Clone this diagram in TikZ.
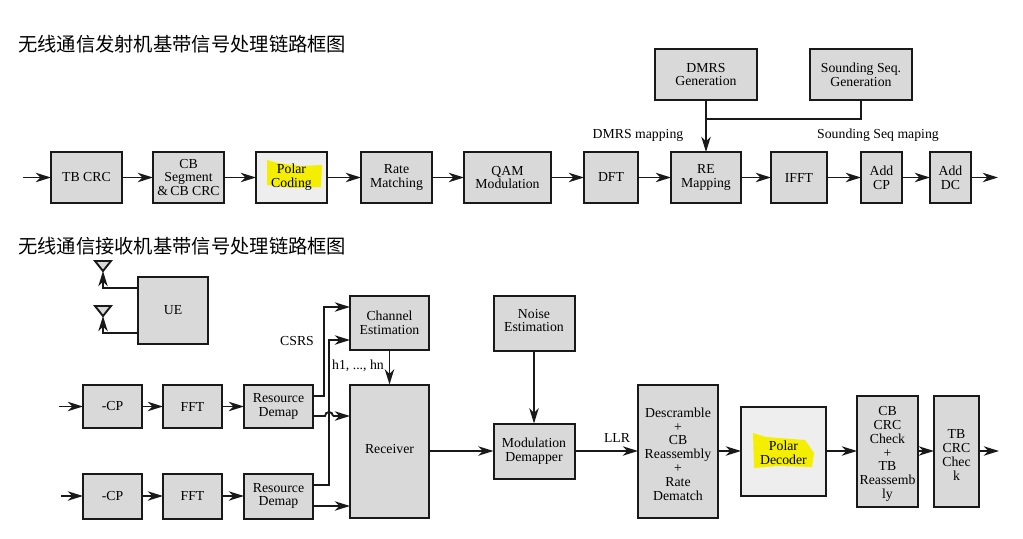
\documentclass[tikz,border=0pt]{standalone}
\usepackage{xcolor}
\usepackage{fontspec}
\setmainfont{Liberation Serif}
\newfontfamily\cjk{Noto Sans CJK SC}
\usepackage{tikz}
\usetikzlibrary{arrows.meta}
\usetikzlibrary{calc}

\definecolor{blockgray}{HTML}{D9D9D9}
\definecolor{polargray}{HTML}{EEEEEE}
\definecolor{marker}{HTML}{F4EE00}

\tikzset{
  blockbox/.style 2 args={
    draw=black!90, line width=1.7pt, fill=blockgray, align=center, inner sep=0pt, outer sep=0pt,
    font=\fontsize{11.7}{11.7}\selectfont,
    minimum width=#1*0.85pt, minimum height=#2*0.85pt},
  labeltext/.style={align=center, inner sep=0pt, font=\fontsize{11.7}{11.7}\selectfont},
  titletext/.style={anchor=west, inner sep=0pt, font=\cjk\fontsize{16.4}{16.4}\selectfont},
  wire/.style={line width=1.6pt, draw=black!90},
  flow/.style={wire, ->},
  >={Stealth[length=13pt, width=8pt, inset=4pt]}
}

\begin{document}
\begin{tikzpicture}[x=0.85pt, y=-0.85pt]

    \useasboundingbox [fill=white] (0, 0) rectangle (1023, 539);

    \node [titletext] (txtitle) at (18, 44) {无线通信发射机基带信号处理链路框图};
    \node [titletext] (rxtitle) at (18, 246) {无线通信接收机基带信号处理链路框图};

    % transmit chain
    \coordinate (txin) at (23, 177.5);
    \node [blockbox={71}{51}] (tbcrc) at (86.5, 177.5) {TB CRC};
    \node [blockbox={71}{51}] (cbseg) at (188.5, 177.5) {CB\\Segment\\\&\,CB CRC};
    \node [blockbox={71}{51}, fill=polargray] (polarenc) at (291.5, 177.5) {};
    \fill [marker] (267, 160) -- (278, 163) -- (300, 166) -- (322, 165) -- (321, 187) -- (293, 188) -- (267, 185) -- cycle;
    \node [labeltext] (polarenctxt) at (polarenc) {Polar\\Coding};
    \node [blockbox={71}{51}] (ratematch) at (396.5, 177.5) {Rate\\Matching};
    \node [blockbox={87}{51}] (qam) at (507.5, 177.5) {QAM\\Modulation};
    \node [blockbox={54}{51}] (dft) at (611, 177.5) {DFT};
    \node [blockbox={70}{51}] (remap) at (706, 177.5) {RE\\Mapping};
    \node [blockbox={56}{51}] (ifft) at (799, 177.5) {IFFT};
    \node [blockbox={41}{51}] (addcp) at (881.5, 177.5) {Add\\CP};
    \node [blockbox={41}{51}] (adddc) at (950.5, 177.5) {Add\\DC};
    \coordinate (txout) at (998, 177.5);

    \node [blockbox={102}{51}] (dmrs) at (706, 74.5) {DMRS\\Generation};
    \node [blockbox={102}{51}] (sounding) at (861, 74.5) {Sounding Seq.\\Generation};
    \coordinate (refjoin) at (706, 119);

    \node [labeltext] (dmrslabel) at (638, 135) {DMRS mapping};
    \node [labeltext] (soundlabel) at (878, 135) {Sounding Seq maping};

    \draw [flow] (txin) -- (tbcrc);
    \draw [flow] (tbcrc) -- (cbseg);
    \draw [flow] (cbseg) -- (polarenc);
    \draw [flow] (polarenc) -- (ratematch);
    \draw [flow] (ratematch) -- (qam);
    \draw [flow] (qam) -- (dft);
    \draw [flow] (dft) -- (remap);
    \draw [flow] (remap) -- (ifft);
    \draw [flow] (ifft) -- (addcp);
    \draw [flow] (addcp) -- (adddc);
    \draw [flow] (adddc) -- (txout);
    \draw [flow] (dmrs) -- (remap);
    \draw [wire] (sounding) |- (refjoin);

    % antennas and UE
    \node [blockbox={70}{67}] (ue) at (173, 310.5) {UE};
    \coordinate (antup) at (103, 271);
    \coordinate (antdown) at (103, 316);
    \coordinate (ueup) at (138, 288);
    \coordinate (uedown) at (138, 333);
    \draw [wire, fill=blockgray] (antup) -- ++(-8, -10) -- ++(16, 0) -- cycle;
    \draw [wire, fill=blockgray] (antdown) -- ++(-8, -10) -- ++(16, 0) -- cycle;
    \draw [flow] (ueup) -| (antup);
    \draw [flow] (uedown) -| (antdown);

    % receive chain
    \coordinate (rxina) at (59, 406.5);
    \coordinate (rxinb) at (61, 496);
    \node [blockbox={59}{43}] (cpa) at (112.5, 406.5) {-CP};
    \node [blockbox={59}{43}] (ffta) at (192.5, 406.5) {FFT};
    \node [blockbox={69}{43}] (demapa) at (278.5, 406.5) {Resource\\Demap};
    \node [blockbox={59}{45}] (cpb) at (112.5, 496) {-CP};
    \node [blockbox={59}{45}] (fftb) at (192.5, 496) {FFT};
    \node [blockbox={69}{45}] (demapb) at (278.5, 496) {Resource\\Demap};

    \node [blockbox={79}{54}] (chanest) at (389.5, 323) {Channel\\Estimation};
    \node [blockbox={79}{133}] (receiver) at (389.5, 451) {};
    \node [labeltext] (receivertxt) at (389.5, 449) {Receiver};
    \node [blockbox={81}{55}] (noise) at (534, 323.5) {};
    \node [labeltext] (noisetxt) at (534, 320.5) {Noise\\Estimation};
    \node [blockbox={81}{55}] (demapper) at (534, 451) {Modulation\\Demapper};
    \node [blockbox={80}{133}] (descr) at (678, 451) {};
    \node [labeltext] (descrtxt) at (678, 454) {Descramble\\+\\CB\\Reassembly\\+\\Rate\\Dematch};
    \node [blockbox={85}{89}, fill=polargray] (polardec) at (783.5, 451) {};
    \fill [marker] (753, 433) -- (766, 437) -- (805, 440) -- (814, 453) -- (812, 467) -- (778, 466) -- (754, 468) -- cycle;
    \node [labeltext] (polardectxt) at (783.5, 453) {Polar\\Decoder};
    \node [blockbox={61}{111}] (cbcheck) at (887.5, 451) {};
    \node [labeltext] (cbchecktxt) at (887.5, 454) {CB\\CRC\\Check\\+\\TB\\Reassemb\\ly};
    \node [blockbox={45}{111}] (tbcheck) at (956.5, 451) {};
    \node [labeltext] (tbchecktxt) at (956.5, 455) {TB\\CRC\\Chec\\k};
    \coordinate (rxout) at (999, 451);

    \node [labeltext] (csrslabel) at (297, 341) {CSRS};
    \node [labeltext] (hlabel) at (358, 366) {h1, ..., hn};
    \node [labeltext] (llrlabel) at (617, 438) {LLR};

    \coordinate (demapaup) at (313, 396);
    \coordinate (demapadown) at (313, 416);
    \coordinate (demapbup) at (313, 485);
    \coordinate (demapbdown) at (313, 506);
    \coordinate (chanestup) at (350, 307);
    \coordinate (chanestdown) at (350, 340);
    \coordinate (receivera) at (350, 416);
    \coordinate (receiverb) at (350, 506);
    \coordinate (bendup) at (324, 396);
    \coordinate (benddown) at (329, 485);
    \coordinate (hopin) at (325, 416);
    \coordinate (hopout) at (333, 416);

    \draw [flow] (rxina) -- (cpa);
    \draw [flow] (cpa) -- (ffta);
    \draw [flow] (ffta) -- (demapa);
    \draw [flow] (rxinb) -- (cpb);
    \draw [flow] (cpb) -- (fftb);
    \draw [flow] (fftb) -- (demapb);
    \draw [flow] (demapaup) -- (bendup) |- (chanestup);
    \draw [flow] (demapbup) -- (benddown) |- (chanestdown);
    \draw [wire] (demapadown) -- (hopin) arc [start angle=180, end angle=0, radius=3.4pt];
    \draw [flow] (hopout) -- (receivera);
    \draw [flow] (demapbdown) -- (receiverb);
    \draw [flow] (chanest) -- (receiver);
    \draw [flow] (receiver) -- (demapper);
    \draw [flow] (noise) -- (demapper);
    \draw [flow] (demapper) -- (descr);
    \draw [flow] (descr) -- (polardec);
    \draw [flow] (polardec) -- (cbcheck);
    \draw [flow] (cbcheck) -- (tbcheck);
    \draw [flow] (tbcheck) -- (rxout);

\end{tikzpicture}
\end{document}
